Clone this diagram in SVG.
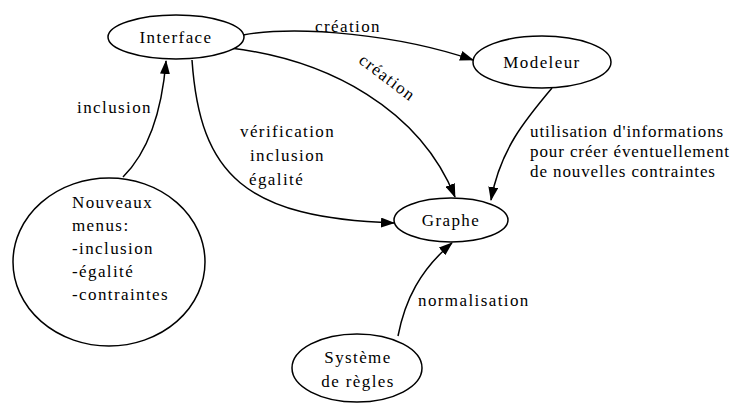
<svg xmlns="http://www.w3.org/2000/svg" width="756" height="405" viewBox="0 0 756 405">
<style>
.n{fill:#fff;stroke:#000;stroke-width:1.5}
.t{font-family:"Liberation Serif",serif;font-size:17px;letter-spacing:1.4px;fill:#000}
.c{text-anchor:middle}
.e{fill:none;stroke:#000;stroke-width:1.5;marker-end:url(#ah)}
</style>
<defs>
<marker id="ah" markerUnits="userSpaceOnUse" markerWidth="14" markerHeight="10" refX="13" refY="5" orient="auto">
<path d="M0,0 L14,5 L0,10 Z" fill="#000"/>
</marker>
</defs>
<rect width="756" height="405" fill="#fff"/>
<g id="connectors">
<path class="e" d="M123,177 C150,150 162,110 166,61"/>
<path class="e" d="M192,60 C200,175 245,218 394,223"/>
<path class="e" d="M243,35 C300,25 400,35 473,60"/>
<path class="e" d="M230,48 C330,60 420,110 455,197"/>
<path class="e" d="M552,88 C525,120 500,150 491,200"/>
<path class="e" d="M398,336 C405,300 420,270 452,243"/>
</g>
<g id="labels">
<text class="t" x="315" y="32">création</text>
<text class="t" transform="translate(384,82) rotate(37)" text-anchor="middle">création</text>
<text class="t" x="152" y="113" text-anchor="end">inclusion</text>
<text class="t" x="240" y="137">vérification</text>
<text class="t" x="250" y="161">inclusion</text>
<text class="t" x="249" y="185">égalité</text>
<text class="t" x="530" y="137" style="letter-spacing:0.9px">utilisation d'informations</text>
<text class="t" x="530" y="157" style="letter-spacing:0.9px">pour créer éventuellement</text>
<text class="t" x="530" y="177" style="letter-spacing:0.9px">de nouvelles contraintes</text>
<text class="t" x="418" y="306">normalisation</text>
</g>
<g id="interface">
<ellipse class="n" cx="176" cy="37" rx="68" ry="22"/>
<text class="t c" x="176" y="43">Interface</text>
</g>
<g id="modeleur">
<ellipse class="n" cx="542" cy="62" rx="69" ry="26"/>
<text class="t c" x="542" y="68">Modeleur</text>
</g>
<g id="graphe">
<ellipse class="n" cx="451" cy="220" rx="57" ry="22"/>
<text class="t c" x="451" y="226">Graphe</text>
</g>
<g id="nouveaux">
<ellipse class="n" cx="109" cy="262" rx="96" ry="84"/>
<text class="t" x="72" y="208">Nouveaux</text>
<text class="t" x="72" y="231">menus:</text>
<text class="t" x="72" y="254">-inclusion</text>
<text class="t" x="72" y="277">-égalité</text>
<text class="t" x="72" y="300">-contraintes</text>
</g>
<g id="systeme">
<ellipse class="n" cx="357" cy="368" rx="65" ry="34"/>
<text class="t c" x="358" y="363">Système</text>
<text class="t c" x="358" y="387">de règles</text>
</g>
</svg>
